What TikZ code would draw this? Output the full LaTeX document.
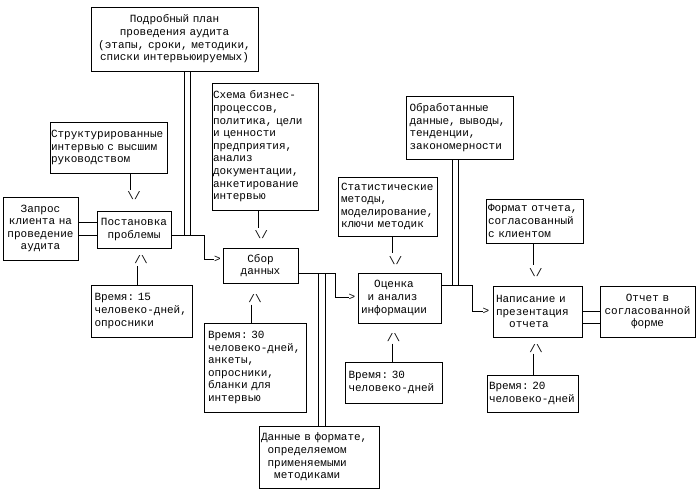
\documentclass[tikz,border=0pt]{standalone}
\usepackage{fontspec}
\setmainfont{Liberation Mono}
\frenchspacing
\newcommand\mf{\fontsize{11}{12.6}\selectfont}
\tikzset{
  bx/.style={draw, line width=0.7pt, inner ysep=0pt, font=\mf},
  lft/.style={align=left},
  ctr/.style={align=center},
  gl/.style={inner sep=0pt, font=\mf},
  ln/.style={line width=0.7pt}
}
\begin{document}
\begin{tikzpicture}[x=1pt,y=-1pt]
\fill[white] (0,0) rectangle (698,492);
\useasboundingbox (0,0) rectangle (698,492);

% boxes
\node[bx,ctr,minimum width=167pt,minimum height=64pt,text width=163pt,inner xsep=2pt] (plan) at (174.5,39)
  {Подробный план\\проведения аудита\\(этапы, сроки, методики,\\списки интервьюируемых)};
\node[bx,lft,minimum width=117pt,minimum height=51pt,text width=115pt,inner xsep=1pt] (strukt) at (108.5,147.5)
  {Структурированные\\интервью с высшим\\руководством};
\node[bx,ctr,minimum width=75pt,minimum height=63pt,text width=73pt,inner xsep=1pt] (zapros) at (40.5,228.5)
  {Запрос\\клиента на\\проведение\\аудита};
\node[bx,ctr,minimum width=74pt,minimum height=37pt,text width=72pt,inner xsep=1pt] (post) at (134,229.5)
  {Постановка\\проблемы};
\node[bx,lft,minimum width=101pt,minimum height=52pt,text width=94pt,inner xsep=3.5pt] (v15) at (141.5,311)
  {Время: 15\\человеко-дней,\\опросники};
\node[bx,lft,minimum width=106pt,minimum height=127pt,text width=104pt,inner xsep=1pt] (shema) at (265,146.5)
  {Схема бизнес-\\процессов,\\политика, цели\\и ценности\\предприятия,\\анализ\\документации,\\анкетирование\\интервью};
\node[bx,ctr,minimum width=75pt,minimum height=35pt,text width=73pt,inner xsep=1pt] (sbor) at (260.5,265.5)
  {Сбор\\данных};
\node[bx,lft,minimum width=102pt,minimum height=89pt,text width=94pt,inner xsep=4pt] (v30a) at (255,367.5)
  {Время: 30\\человеко-дней,\\анкеты,\\опросники,\\бланки для\\интервью};
\node[bx,lft,minimum width=120pt,minimum height=62pt,text width=116pt,inner xsep=2pt] (dannye) at (319,457)
  {Данные в формате,\\\hspace*{0.6em}определяемом\\\hspace*{0.6em}применяемыми\\\hspace*{1.2em}методиками};
\node[bx,lft,minimum width=99pt,minimum height=59pt,text width=93pt,inner xsep=3pt] (stat) at (387.5,206.5)
  {Статистические\\методы,\\моделирование,\\ключи методик};
\node[bx,lft,minimum width=83pt,minimum height=50pt,text width=77pt,inner xsep=3pt] (ocenka) at (399.5,298)
  {\hspace*{1.2em}Оценка\\\hspace*{0.6em}и анализ\\информации};
\node[bx,lft,minimum width=97pt,minimum height=41pt,text width=90pt,inner xsep=3.5pt] (v30b) at (393.5,382.5)
  {Время: 30\\человеко-дней};
\node[bx,lft,minimum width=107pt,minimum height=63pt,text width=100pt,inner xsep=3.5pt] (obrab) at (459.5,127.5)
  {Обработанные\\данные, выводы,\\тенденции,\\закономерности};
\node[bx,lft,minimum width=97pt,minimum height=44pt,text width=93pt,inner xsep=2pt] (format) at (534.5,221)
  {Формат отчета,\\согласованный\\с клиентом};
\node[bx,lft,minimum width=89pt,minimum height=51pt,text width=83pt,inner xsep=3pt] (napis) at (537.5,311.5)
  {Написание и\\презентация\\\hspace*{1.2em}отчета};
\node[bx,lft,minimum width=91pt,minimum height=37pt,text width=87pt,inner xsep=2pt] (v20) at (532.5,393.5)
  {Время: 20\\человеко-дней};
\node[bx,ctr,minimum width=95pt,minimum height=51pt,text width=93pt,inner xsep=1pt] (otchet) at (647.5,311.5)
  {Отчет в\\согласованной\\форме};

% arrow glyphs
\node[gl] (dn1) at (134,196) {\textbackslash/};
\node[gl] (dn2) at (261.3,235) {\textbackslash/};
\node[gl] (dn3) at (395.5,260.5) {\textbackslash/};
\node[gl] (dn4) at (535.8,272.7) {\textbackslash/};
\node[gl] (up1) at (141,260) {/\textbackslash};
\node[gl] (up2) at (255,298.3) {/\textbackslash};
\node[gl] (up3) at (393.5,338) {/\textbackslash};
\node[gl] (up4) at (536,348.3) {/\textbackslash};
\node[gl] (gt1) at (217.5,259.5) {>};
\node[gl] (gt2) at (352,297.5) {>};
\node[gl] (gt3) at (486,311) {>};

% coordinates
\coordinate (e1) at (130.7,190);
\coordinate (e2) at (258.3,228);
\coordinate (e3) at (392.3,253);
\coordinate (e4) at (533.3,265);
\coordinate (e5) at (137.7,266);
\coordinate (e6) at (251,304.5);
\coordinate (e7) at (392.3,343.5);
\coordinate (e8) at (533.3,353.5);
\coordinate (l1) at (0,222.3);
\coordinate (l2) at (0,235);
\coordinate (l3) at (0,311);
\coordinate (l4) at (0,323.3);
\coordinate (k1) at (204,235);
\coordinate (k3) at (335,273.3);
\coordinate (k4) at (472.5,285);
\coordinate (d1) at (184.5,235);
\coordinate (d2) at (190.5,235);
\coordinate (d3) at (318.3,273.3);
\coordinate (d4) at (325,273.3);
\coordinate (d5) at (452.7,285);
\coordinate (d6) at (458.5,285);

% connectors
\draw[ln] (strukt.south -| e1) -- (e1);
\draw[ln] (shema.south -| e2) -- (e2);
\draw[ln] (stat.south -| e3) -- (e3);
\draw[ln] (format.south -| e4) -- (e4);
\draw[ln] (e5) -- (v15.north -| e5);
\draw[ln] (e6) -- (v30a.north -| e6);
\draw[ln] (e7) -- (v30b.north -| e7);
\draw[ln] (e8) -- (v20.north -| e8);
\draw[ln] (zapros.east |- l1) -- (post.west |- l1);
\draw[ln] (zapros.east |- l2) -- (post.west |- l2);
\draw[ln] (napis.east |- l3) -- (otchet.west |- l3);
\draw[ln] (napis.east |- l4) -- (otchet.west |- l4);
\draw[ln] (post.east |- k1) -- (k1) |- (gt1.west);
\draw[ln] (sbor.east |- k3) -- (k3) |- (gt2.west);
\draw[ln] (ocenka.east |- k4) -- (k4) |- (gt3.west);
\draw[ln] (plan.south -| d1) -- (d1);
\draw[ln] (plan.south -| d2) -- (d2);
\draw[ln] (d3) -- (dannye.north -| d3);
\draw[ln] (d4) -- (dannye.north -| d4);
\draw[ln] (obrab.south -| d5) -- (d5);
\draw[ln] (obrab.south -| d6) -- (d6);
\end{tikzpicture}
\end{document}
